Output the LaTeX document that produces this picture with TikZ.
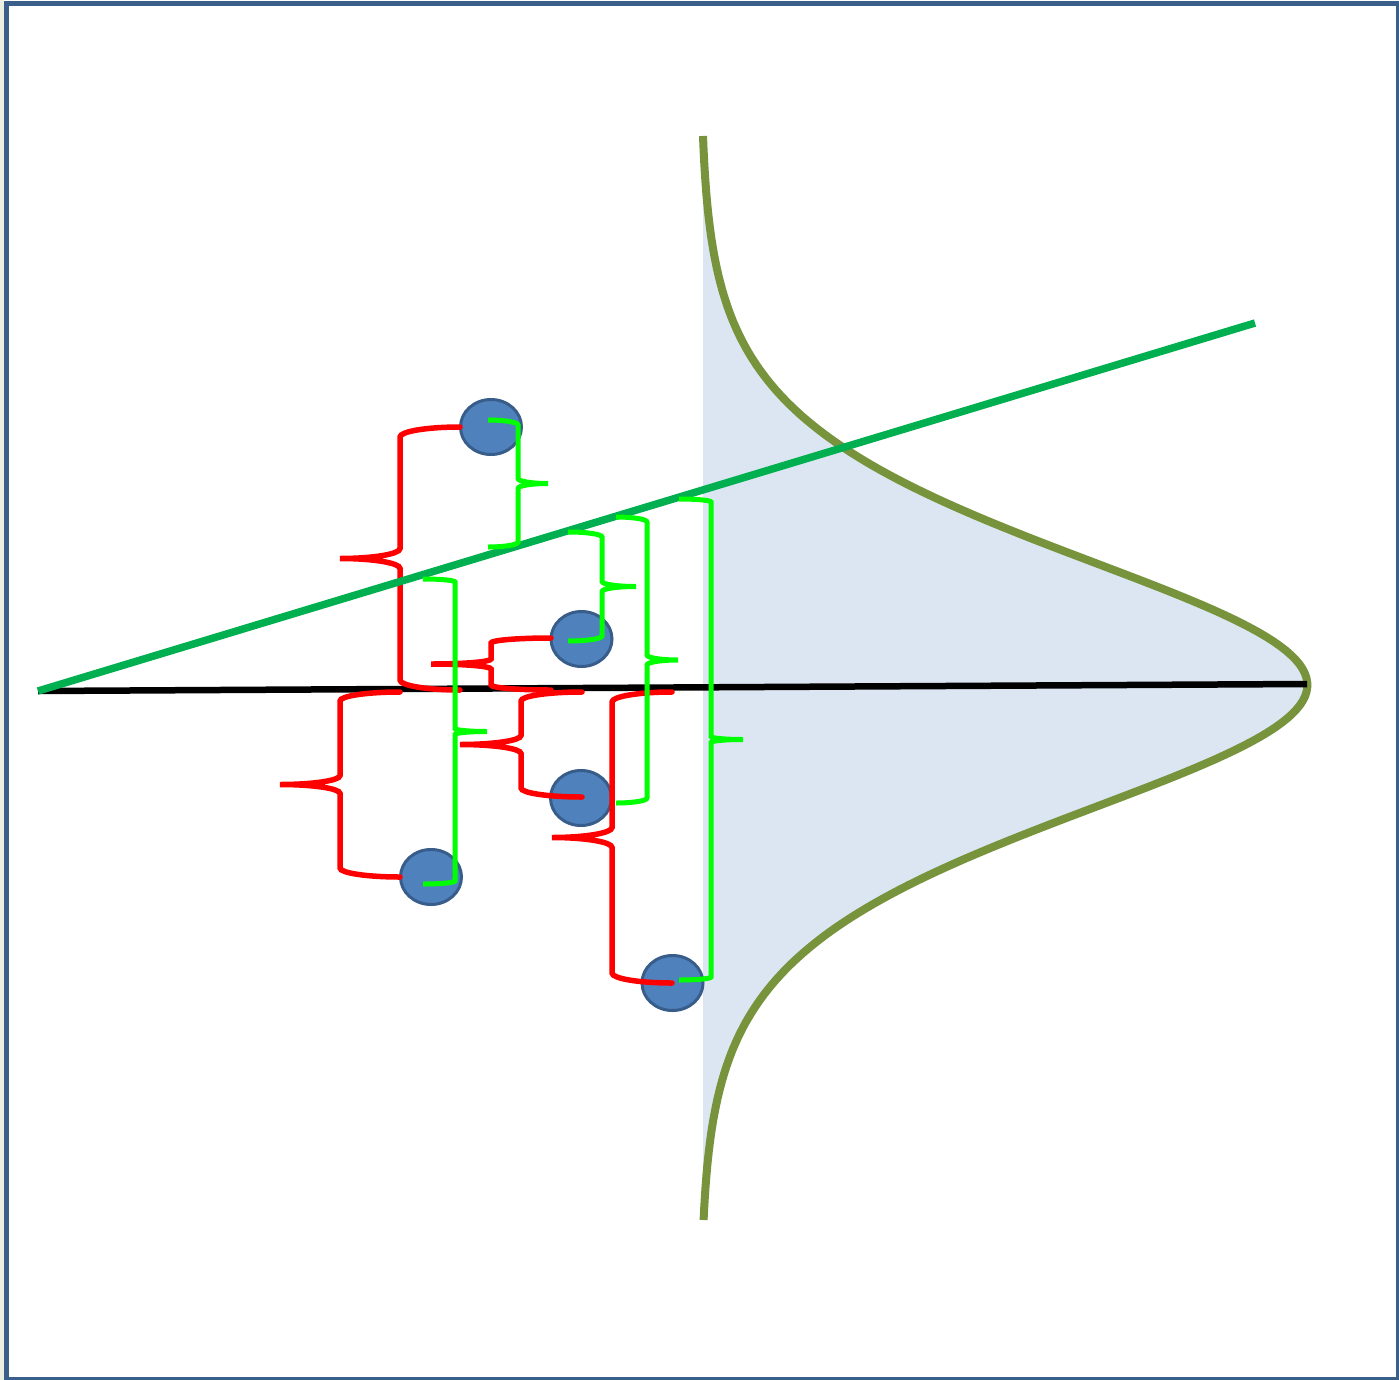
\documentclass[tikz,border=0pt]{standalone}
\usetikzlibrary{shapes.geometric}
\definecolor{framec}{HTML}{3A5F8B}
\definecolor{stripc}{HTML}{EDF0E0}
\definecolor{fillc}{HTML}{DCE6F2}
\definecolor{olive}{HTML}{77933C}
\definecolor{regc}{HTML}{00B050}
\definecolor{ballf}{HTML}{4F81BD}
\definecolor{balld}{HTML}{385D8A}
\definecolor{brgreen}{HTML}{00FF00}
\definecolor{brred}{HTML}{FF0000}
% left brace (tip to the left): #1 v, #2 top, #3 bottom, #4 tip y, #5 half width, #6 corner ry, #7 style
\newcommand{\LeftBr}[7]{%
  \draw[#7] ({#1+#5},#2) .. controls ({#1+0.448*#5},#2) and (#1,{#2+0.448*#6}) .. (#1,{#2+#6})
    -- (#1,{#4-#6}) .. controls (#1,{#4-0.448*#6}) and ({#1-0.448*#5},#4) .. ({#1-#5},#4)
    .. controls ({#1-0.448*#5},#4) and (#1,{#4+0.448*#6}) .. (#1,{#4+#6})
    -- (#1,{#3-#6}) .. controls (#1,{#3-0.448*#6}) and ({#1+0.448*#5},#3) .. ({#1+#5},#3);}
% right brace (tip to the right)
\newcommand{\RightBr}[7]{%
  \draw[#7] ({#1-#5},#2) .. controls ({#1-0.448*#5},#2) and (#1,{#2+0.448*#6}) .. (#1,{#2+#6})
    -- (#1,{#4-#6}) .. controls (#1,{#4-0.448*#6}) and ({#1+0.448*#5},#4) .. ({#1+#5},#4)
    .. controls ({#1+0.448*#5},#4) and (#1,{#4+0.448*#6}) .. (#1,{#4+#6})
    -- (#1,{#3-#6}) .. controls (#1,{#3-0.448*#6}) and ({#1-0.448*#5},#3) .. ({#1-#5},#3);}
\tikzset{
  ball/.style={ellipse, draw=balld, fill=ballf, line width=3pt, minimum width=61pt, minimum height=55pt, inner sep=0pt},
  redbr/.style={draw=brred, line width=5.5pt, line cap=round},
  grnbr/.style={draw=brgreen, line width=5pt},
}
\begin{document}
\begin{tikzpicture}[x=1pt,y=-1pt]
\useasboundingbox (0,0) rectangle (1399,1380);
\begin{scope}
\clip (0,0) rectangle (1399,1380);
\fill[white] (0,0) rectangle (1399,1380);
\fill[stripc] (0,0) rectangle (4,1380);
% density curve
\fill[fillc] (703,136) -- plot[domain=-549:535, samples=241, variable=\t] ({703+607*(exp(-3.81*(sqrt(1+(\t/250)^2)-1))-0.0046)}, {685+\t}) -- (703,1220) -- cycle;
\draw[olive, line width=8pt] plot[domain=-549:535, samples=241, variable=\t] ({703+607*(exp(-3.81*(sqrt(1+(\t/250)^2)-1))-0.0046)}, {685+\t});
% axis
\coordinate (o) at (38,691);
\coordinate (axend) at (1307,684);
\coordinate (regend) at (1255,323);
\draw[black, line width=6.5pt] (o) -- (axend);
% points
\node[ball] (b1) at (491,427) {};
\node[ball] (b2) at (581.5,639) {};
\node[ball] (b3) at (581,798) {};
\node[ball] (b4) at (431,877) {};
\node[ball] (b5) at (672.5,983) {};
% red braces (distance to the axis)
\LeftBr{400}{427}{690}{558.5}{60}{10}{redbr}
\LeftBr{340}{692}{877}{784.5}{60}{9}{redbr}
\LeftBr{491}{638}{690}{664}{60}{5}{redbr}
\LeftBr{521}{692}{797}{744.5}{61}{9}{redbr}
\LeftBr{612}{692}{983}{837.5}{60}{10}{redbr}
% regression line
\draw[regc, line width=7.5pt] (o) -- (regend);
% green braces (distance to the regression line)
\RightBr{518}{420}{547}{483.5}{30}{5}{grnbr}
\RightBr{455}{579}{884}{731.5}{32}{3}{grnbr}
\RightBr{602}{532}{641}{586.5}{34}{5}{grnbr}
\RightBr{647}{517}{803}{660}{31}{5}{grnbr}
\RightBr{711}{499}{980}{739.5}{32}{3}{grnbr}
% frame
\draw[framec, line width=5pt] (6.5,3.5) rectangle (1398.5,1379.5);
\end{scope}
\end{tikzpicture}
\end{document}
